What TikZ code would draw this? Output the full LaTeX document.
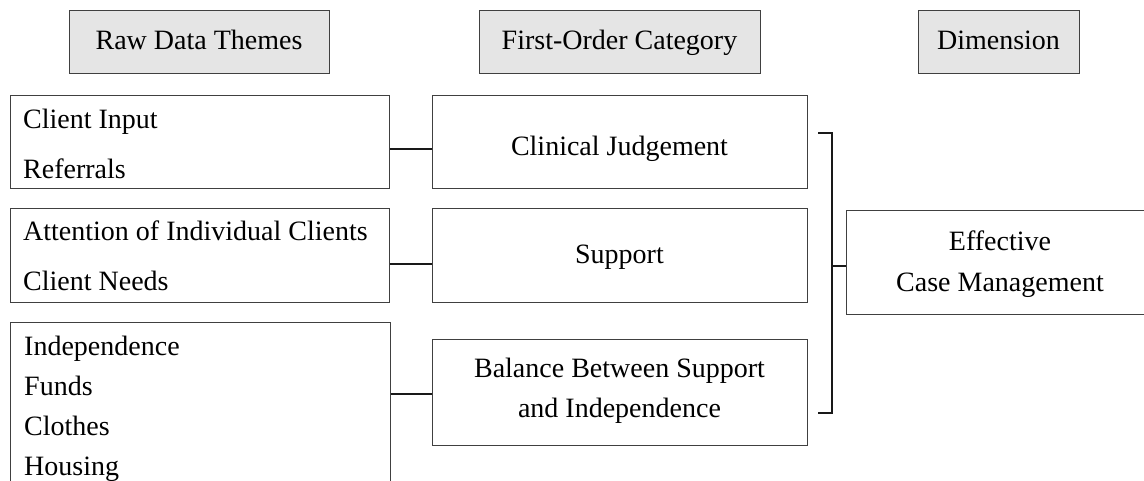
\documentclass[tikz,border=0pt]{standalone}
\usepackage{fontspec}
\setmainfont{Liberation Serif}
\begin{document}
\begin{tikzpicture}[x=1pt,y=-1pt,
  box/.style={draw=black!75, line width=1pt, inner sep=0pt, anchor=north west},
  head/.style={box, fill=black!10},
  txt/.style={inner sep=0pt, font=\fontsize{28}{34}\selectfont},
  ctxt/.style={txt, anchor=base},
  ltxt/.style={txt, anchor=base west},
  link/.style={draw=black!90, line width=2pt}]
\useasboundingbox (0,0) rectangle (1144,480);
\clip (0,0) rectangle (1144,480);

% column headings
\node[head, minimum width=260pt, minimum height=63pt] (h1) at (69,10) {};
\node[head, minimum width=281pt, minimum height=63pt] (h2) at (479,10) {};
\node[head, minimum width=161pt, minimum height=63pt] (h3) at (918,10) {};
\node[ctxt] (h1t) at (199,49) {Raw Data Themes};
\node[ctxt] (h2t) at (619.5,49) {First-Order Category};
\node[ctxt] (h3t) at (998.5,49) {Dimension};

% raw data themes
\node[box, minimum width=379pt, minimum height=93pt] (l1) at (10,95) {};
\node[box, minimum width=379pt, minimum height=94pt] (l2) at (10,208) {};
\node[box, minimum width=380pt, minimum height=175pt] (l3) at (10,322) {};
\node[ltxt] (l1a) at (23,128) {Client Input};
\node[ltxt] (l1b) at (23,178) {Referrals};
\node[ltxt] (l2a) at (23,240) {Attention of Individual Clients};
\node[ltxt] (l2b) at (23,290) {Client Needs};
\node[ltxt] (l3a) at (24,355) {Independence};
\node[ltxt] (l3b) at (24,395) {Funds};
\node[ltxt] (l3c) at (24,435) {Clothes};
\node[ltxt] (l3d) at (24,475) {Housing};

% first-order categories
\node[box, minimum width=375pt, minimum height=93pt] (m1) at (432,95) {};
\node[box, minimum width=375pt, minimum height=94pt] (m2) at (432,208) {};
\node[box, minimum width=375pt, minimum height=106pt] (m3) at (432,339) {};
\node[ctxt] (m1t) at (619.5,155) {Clinical Judgement};
\node[ctxt] (m2t) at (619.5,263) {Support};
\node[ctxt] (m3a) at (619.5,377) {Balance Between Support};
\node[ctxt] (m3b) at (619.5,417) {and Independence};

% dimension
\node[box, minimum width=320pt, minimum height=104pt] (d1) at (846,210) {};
\node[ctxt] (d1a) at (1000,250) {Effective};
\node[ctxt] (d1b) at (1000,291) {Case Management};

% links between themes and categories
\draw[link] ([yshift=-6.5pt]l1.east) -- ([yshift=-6.5pt]m1.west);
\draw[link] ([yshift=-8pt]m2.west -| l2.east) -- ([yshift=-8pt]m2.west);
\draw[link] ([yshift=-1pt]m3.west -| l3.east) -- ([yshift=-1pt]m3.west);

% bracket joining the categories to the dimension
\coordinate (b1) at (818,133);
\coordinate (b2) at (832,133);
\coordinate (b3) at (832,413);
\coordinate (b4) at (818,413);
\draw[link] (b1) -- (b2) -- (b3) -- (b4);
\draw[link] ([yshift=-3pt]d1.west -| b2) -- ([yshift=-3pt]d1.west);
\end{tikzpicture}
\end{document}
